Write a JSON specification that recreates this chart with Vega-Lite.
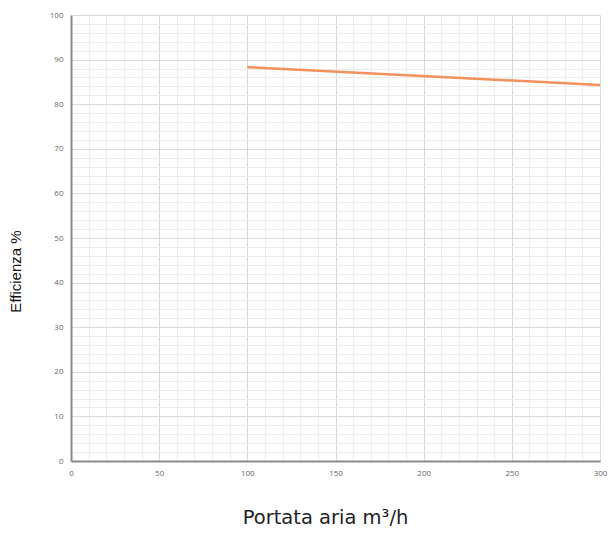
{
  "$schema": "https://vega.github.io/schema/vega-lite/v6.json",
  "autosize": "none",
  "padding": {"left": 71, "top": 15, "right": 11, "bottom": 74},
  "width": 529,
  "height": 446,
  "background": "white",
  "config": {"view": {"stroke": null}},
  "data": {"values": [
    {"portata": 100, "efficienza": 88.3},
    {"portata": 300, "efficienza": 84.3}
  ]},
  "mark": {"type": "line", "color": "#f3915a", "strokeWidth": 2.5},
  "encoding": {
    "x": {
      "field": "portata", "type": "quantitative",
      "scale": {"domain": [0, 300], "nice": false, "zero": true},
      "axis": {
        "title": "Portata aria m³/h",
        "values": [0,10,20,30,40,50,60,70,80,90,100,110,120,130,140,150,160,170,180,190,200,210,220,230,240,250,260,270,280,290,300],
        "labelExpr": "datum.value % 50 === 0 ? datum.label : ''",
        "ticks": false,
        "grid": true,
        "gridColor": {"condition": {"test": "datum.value % 50 === 0", "value": "#d9d9d9"}, "value": "#ececec"},
        "gridWidth": 1,
        "domainColor": "#8a8a8a",
        "domainWidth": 2,
        "labelFontSize": 8,
        "labelColor": "#666",
        "labelFont": "Open Sans",
        "labelPadding": 8,
        "labelFlush": false,
        "labelOverlap": false,
        "titleFont": "DejaVu Sans",
        "titleFontSize": 19.5,
        "titleFontWeight": "normal",
        "titleColor": "#222",
        "titlePadding": 31,
        "titleX": 254
      }
    },
    "y": {
      "field": "efficienza", "type": "quantitative",
      "scale": {"domain": [0, 100], "nice": false},
      "axis": {
        "title": "Efficienza %",
        "values": [0,2,4,6,8,10,12,14,16,18,20,22,24,26,28,30,32,34,36,38,40,42,44,46,48,50,52,54,56,58,60,62,64,66,68,70,72,74,76,78,80,82,84,86,88,90,92,94,96,98,100],
        "labelExpr": "datum.value % 10 === 0 ? datum.label : ''",
        "ticks": false,
        "grid": true,
        "gridColor": {"condition": {"test": "datum.value % 10 === 0", "value": "#d9d9d9"}, "value": "#ececec"},
        "gridWidth": 1,
        "domainColor": "#8a8a8a",
        "domainWidth": 2,
        "labelFontSize": 8,
        "labelColor": "#666",
        "labelFont": "Open Sans",
        "labelPadding": 8,
        "labelFlush": false,
        "labelOverlap": false,
        "titleFont": "Liberation Sans",
        "titleFontSize": 15,
        "titleFontWeight": "normal",
        "titleColor": "#111",
        "titlePadding": 26,
        "titleY": 256
      }
    }
  }
}
